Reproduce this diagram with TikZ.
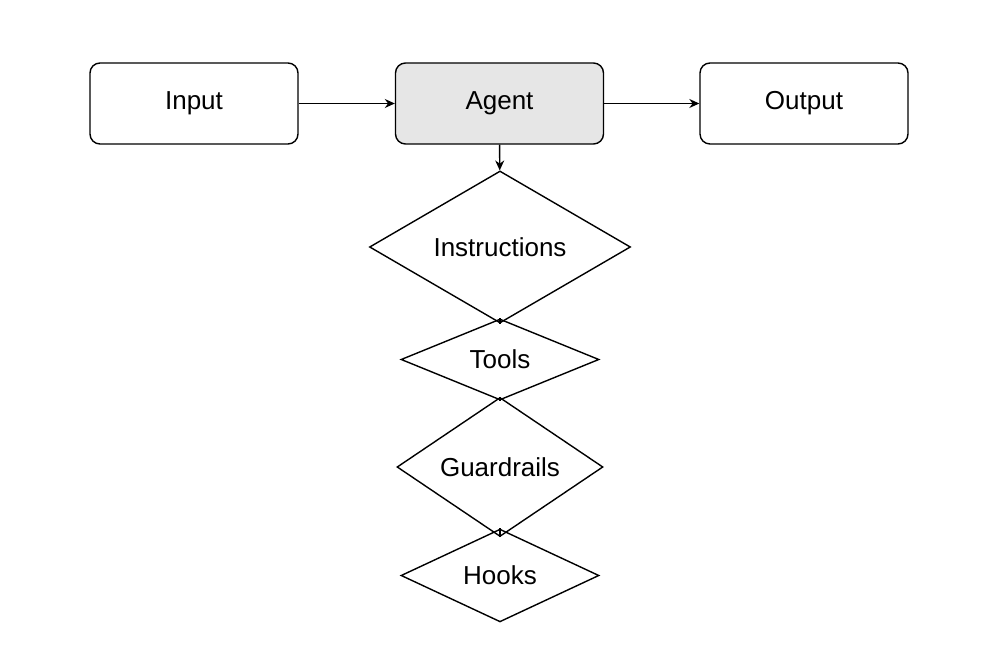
\documentclass[tikz,border=0pt]{standalone}
\usepackage{fontspec}
\setmainfont{Liberation Sans}
\usetikzlibrary{shapes.geometric,arrows.meta}
\begin{document}
\begin{tikzpicture}[x=0.5pt,y=-0.5pt,
  every node/.style={font=\fontsize{13}{15}\selectfont},
  box/.style={draw,rounded corners=5pt,minimum width=104pt,minimum height=40.5pt,line width=0.7pt},
  dia/.style={draw,diamond,inner sep=0pt,line width=0.7pt},
  arr/.style={-{Stealth[length=5pt,width=4.5pt]},line width=0.7pt},
  ln/.style={line width=0.7pt}]
\useasboundingbox (0,0) rectangle (1000,667);
\node[box] (in) at (194,103.5) {Input};
\node[box,fill={rgb,255:red,230;green,230;blue,230}] (ag) at (499.5,103.5) {Agent};
\node[box] (out) at (804,103.5) {Output};
\node[dia,minimum width=130.5pt,minimum height=52pt] (ins) at (500,247) {Instructions};
\node[dia,minimum width=99pt,minimum height=40.5pt] (tl) at (500,359.5) {Tools};
\node[dia,minimum width=103pt,minimum height=44pt] (gr) at (500,467) {Guardrails};
\node[dia,minimum width=99pt,minimum height=45.5pt] (hk) at (500,575.5) {Hooks};
\draw[arr] (in) -- (ag);
\draw[arr] (ag) -- (out);
\draw[arr] (ag) -- (ins);
\draw[ln] (ins) -- (tl);
\draw[ln] (tl) -- (gr);
\draw[ln] (gr) -- (hk);
\end{tikzpicture}
\end{document}
